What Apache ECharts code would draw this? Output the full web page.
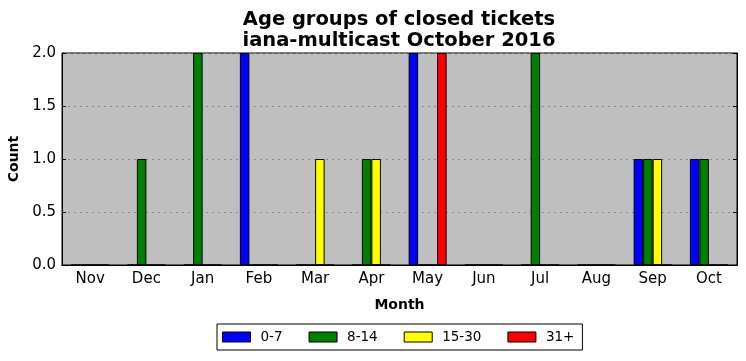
<!DOCTYPE html>
<html><head><meta charset="utf-8">
<script src="https://cdn.jsdelivr.net/npm/echarts@6/dist/echarts.min.js"></script>
<style>html,body{margin:0;padding:0;background:#fff}#c{width:746px;height:361px}</style>
</head><body><div id="c"></div>
<script>
var months = ['Nov','Dec','Jan','Feb','Mar','Apr','May','Jun','Jul','Aug','Sep','Oct'];
var s0_7   = [0,0,0,2,0,0,2,0,0,0,1,1];
var s8_14  = [0,1,2,0,0,1,0,0,2,0,1,1];
var s15_30 = [0,0,0,0,1,1,0,0,0,0,1,0];
var s31p   = [0,0,0,0,0,0,2,0,0,0,0,0];
var yTicks = ['0.0','0.5','1.0','1.5','2.0'];
var seriesNames = ['0-7','8-14','15-30','31+'];
var seriesData = [s0_7, s8_14, s15_30, s31p];
var colors = ['#0000ff','#008000','#ffff00','#ff0000'];
var F = 'DejaVu Sans';
var chart = echarts.init(document.getElementById('c'), null, {renderer:'canvas'});
var series = seriesNames.map(function(n,i){
  return {name:n, type:'bar', data:seriesData[i], barWidth:9.5, barGap:'0%',
    itemStyle:{color:colors[i], borderColor:'#000', borderWidth:1}, xAxisIndex:0, yAxisIndex:0};
});
chart.setOption({
  animation:false,
  textStyle:{fontFamily:F},
  title:{text:'Age groups of closed tickets\niana-multicast October 2016', left:394, top:4, textAlign:'center',
    textStyle:{fontFamily:F, fontWeight:'bold', fontSize:19.5, color:'#000', lineHeight:21}},
  grid:{left:62, right:9, top:53, bottom:96, outerBoundsMode:'none', containLabel:false,
    backgroundColor:'#bfbfbf', show:true, borderColor:'#000', borderWidth:1},
  legend:{data:seriesNames, bottom:11, left:217, icon:'rect', itemWidth:28, itemHeight:10, itemGap:26,
    borderColor:'#000', borderWidth:1, padding:[6,8,6,5], backgroundColor:'#fff',
    itemStyle:{borderColor:'#000', borderWidth:1},
    textStyle:{fontFamily:F, fontSize:13.5, color:'#000', padding:[0,0,0,5]}},
  xAxis:[{type:'category', data:months, position:'bottom',
    name:'Month', nameLocation:'middle', nameGap:33, nameTextStyle:{fontFamily:F, fontWeight:'bold', fontSize:14, color:'#000'},
    axisLine:{lineStyle:{color:'#000'}}, axisTick:{inside:true, alignWithLabel:true, length:4, lineStyle:{color:'#000'}},
    axisLabel:{fontFamily:F, fontSize:15, color:'#000', margin:7}, splitLine:{show:false}},
    {type:'category', data:months, position:'top',
    axisLine:{lineStyle:{color:'#000'}}, axisTick:{inside:true, alignWithLabel:true, length:4, lineStyle:{color:'#000'}},
    axisLabel:{show:false}, splitLine:{show:false}}],
  yAxis:[{type:'value', min:0, max:2, interval:0.5,
    name:'Count', nameLocation:'middle', nameGap:33, nameRotate:90, nameTextStyle:{fontFamily:F, fontWeight:'bold', fontSize:14, color:'#000'},
    axisLine:{show:true, lineStyle:{color:'#000'}}, axisTick:{show:true, inside:true, length:4, lineStyle:{color:'#000'}},
    axisLabel:{fontFamily:F, fontSize:15, color:'#000', margin:6, formatter:function(v){return yTicks[Math.round(v*2)];}},
    splitLine:{show:true, lineStyle:{color:'#8a8a8a', type:[2,4], width:1}}},
    {type:'value', min:0, max:2, interval:0.5, position:'right',
    axisLine:{show:true, lineStyle:{color:'#000'}}, axisTick:{show:true, inside:true, length:4, lineStyle:{color:'#000'}},
    axisLabel:{show:false}, splitLine:{show:false}}],
  series: series
});
</script></body></html>
